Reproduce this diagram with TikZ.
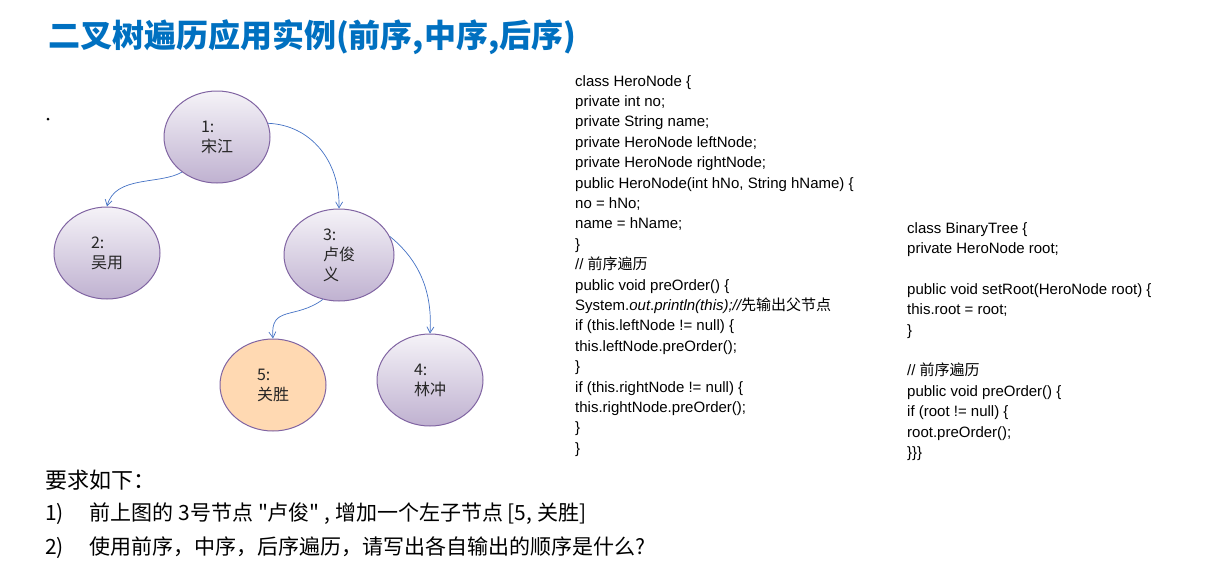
\documentclass[tikz,border=0pt]{standalone}
\usepackage{fontspec}
\setmainfont{Liberation Sans}
\newfontfamily\cjk{Noto Sans CJK SC}
\usetikzlibrary{shapes.geometric,arrows.meta}
\definecolor{ttl}{RGB}{0,112,192}
\definecolor{edge}{RGB}{68,114,196}
\definecolor{bord}{RGB}{128,100,162}
\tikzset{
 hero/.style={ellipse,draw=bord,line width=1pt,top color=bord!8!white,bottom color=bord!50!white,minimum width=#1,minimum height=92pt,align=left,font=\cjk\fontsize{16}{20}\selectfont,text=black!85,xshift=0pt},
 hero/.default=106pt,
 link/.style={draw=edge,line width=0.7pt,-{Straight Barb[length=6pt,width=7pt]}},
 code/.style={anchor=north west,align=left,font=\fontsize{15}{20.4}\selectfont,inner sep=0pt}
}
\begin{document}
\begin{tikzpicture}[x=1pt,y=-1pt]
\useasboundingbox (0,0) rectangle (1208,571);
\node[anchor=west,inner sep=0pt,text=ttl,font=\cjk\bfseries\fontsize{32}{34}\selectfont] (title) at (48,37) {二叉树遍历应用实例(前序,中序,后序)};
\fill (48,119) circle (1.5);
\node[hero] (n1) at (217,137) {1:\\宋江\hspace{12pt}};
\node[hero] (n2) at (107,253) {2:\\吴用\hspace{12pt}};
\node[hero=110pt] (n3) at (339,255) {3:\\卢俊\hspace{8pt}\\义};
\node[hero,top color=orange!30!white,bottom color=orange!30!white] (n5) at (273,385) {5:\\关胜\hspace{12pt}};
\node[hero] (n4) at (430,380) {4:\\林冲\hspace{12pt}};
\draw[link] (n1.225) .. controls (160,185) and (115,175) .. (n2.north);
\draw[link] (n1.15) .. controls (310,125) and (340,160) .. (n3.north);
\draw[link] (n3.250) .. controls (295,320) and (270,305) .. (n5.north);
\draw[link] (n3.20) .. controls (425,265) and (432,300) .. (n4.north);
\node[code] (c1) at (575,75) {class HeroNode \{\\private int no;\\private String name;\\private HeroNode leftNode;\\private HeroNode rightNode;\\public HeroNode(int hNo, String hName) \{\\no = hNo;\\name = hName;\\\}\\// {\cjk 前序遍历}\\public void preOrder() \{\\System.\textit{out}.\textit{println(this);//{\cjk 先输出父节点}}\\if (this.leftNode != null) \{\\this.leftNode.preOrder();\\\}\\if (this.rightNode != null) \{\\this.rightNode.preOrder();\\\}\\\}};
\node[code] (c2) at (907,222) {class BinaryTree \{\\private HeroNode root;\\[20.4pt]public void setRoot(HeroNode root) \{\\this.root = root;\\\}\\[20.4pt]// {\cjk 前序遍历}\\public void preOrder() \{\\if (root != null) \{\\root.preOrder();\\\}\}\}};
\node[anchor=west,inner sep=0pt,font=\cjk\fontsize{22}{26}\selectfont] (req) at (45,480) {要求如下：};
\node[anchor=west,inner sep=0pt,font=\cjk\fontsize{21}{26}\selectfont] (r1) at (45,514) {1)\hspace{26pt}前上图的 3号节点 "卢俊" , 增加一个左子节点 [5, 关胜]};
\node[anchor=west,inner sep=0pt,font=\cjk\fontsize{21}{26}\selectfont] (r2) at (45,548) {2)\hspace{26pt}使用前序，中序，后序遍历，请写出各自输出的顺序是什么?};
\end{tikzpicture}
\end{document}
